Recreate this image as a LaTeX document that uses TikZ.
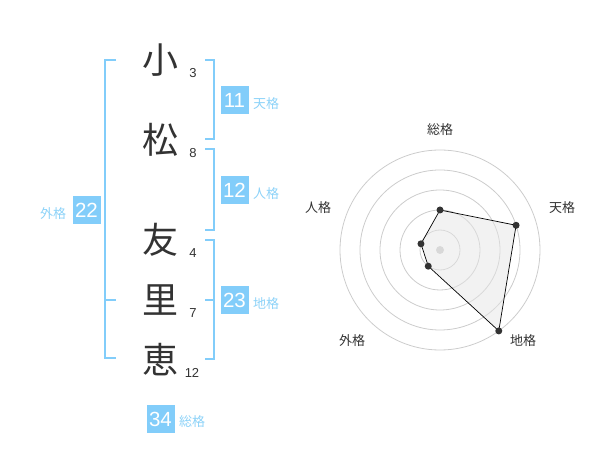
\documentclass[tikz,border=0pt]{standalone}
\usepackage{fontspec}
\setmainfont{Liberation Sans}
\newfontfamily\jp{Noto Sans CJK JP}
\usepackage{tikz}
\definecolor{kblue}{HTML}{82CDFA}
\definecolor{klabel}{HTML}{8CD2F8}
\definecolor{kdark}{HTML}{333333}

\begin{document}
\begin{tikzpicture}[x=1pt,y=-1pt]
      \tikzstyle{kanji}=[text=kdark,font=\jp\fontsize{36}{36}\selectfont,inner sep=0pt]
      \tikzstyle{stroke}=[text=kdark,font=\fontsize{13}{13}\selectfont,inner sep=0pt]
      \tikzstyle{kaku}=[rectangle,fill=kblue,text=white,minimum size=28pt,inner sep=0pt,font=\fontsize{20.5}{20.5}\selectfont]
      \tikzstyle{kakulabel}=[text=klabel,font=\jp\fontsize{13}{13}\selectfont,inner sep=0pt]
      \tikzstyle{bracket}=[draw=kblue,line width=2pt]
      \tikzstyle{radarlabel}=[text=kdark,font=\jp\fontsize{13}{13}\selectfont,inner sep=0pt]
      \tikzstyle{dot}=[circle,fill=kdark,minimum size=7pt,inner sep=0pt]

      \useasboundingbox (0,0) rectangle (600,470);

      \begin{scope}
        \node[kanji](c1) at (160,60){小};
        \node[kanji](c2) at (160,140){松};
        \node[kanji](c3) at (160,240){友};
        \node[kanji](c4) at (160,300){里};
        \node[kanji](c5) at (160,360){恵};

        \node[stroke](s1) at (193,73){3};
        \node[stroke](s2) at (193,153){8};
        \node[stroke](s3) at (193,253){4};
        \node[stroke](s4) at (193,313){7};
        \node[stroke](s5) at (192,373){12};

        \draw[bracket] (116,60) -- (105,60) -- (105,358) -- (116,358);
        \draw[bracket] (105,300) -- (116,300);
        \draw[bracket] (205,60) -- (214,60) -- (214,139) -- (205,139);
        \draw[bracket] (205,149) -- (214,149) -- (214,230) -- (205,230);
        \draw[bracket] (205,240) -- (214,240) -- (214,359) -- (205,359);
        \draw[bracket] (214,300) -- (205,300);

        \node[kaku](ten) at (234.5,100){11};
        \node[kakulabel](tenl) at (266,104){天格};
        \node[kaku](jin) at (234.5,190){12};
        \node[kakulabel](jinl) at (266,194){人格};
        \node[kaku](chi) at (234.5,300){23};
        \node[kakulabel](chil) at (266,304){地格};
        \node[kaku](gai) at (86.5,210){22};
        \node[kakulabel](gail) at (53,214){外格};
        \node[kaku](sou) at (160.5,419){34};
        \node[kakulabel](soul) at (192,422){総格};
      \end{scope}

      \begin{scope}[shift={(440,250)},yscale=-1]
        \foreach \r in {20,40,60,80,100}
          \draw[gray!40,line width=0.8pt] (0,0) circle (\r);
        \fill[gray!40] (0,0) circle (4);

        \coordinate (psou) at (90:40);
        \coordinate (pten) at (18:80);
        \coordinate (pchi) at (-54:100);
        \coordinate (pgai) at (-126:20);
        \coordinate (pjin) at (162:20);

        \filldraw[fill=gray!20,fill opacity=0.5,draw=black,line width=0.7pt]
          (psou) -- (pten) -- (pchi) -- (pgai) -- (pjin) -- cycle;
        \foreach \p in {psou,pten,pchi,pgai,pjin}
          \node[dot] at (\p){};

        \node[radarlabel](lsou) at (0,120){総格};
        \node[radarlabel](lten) at (122,42){天格};
        \node[radarlabel](lchi) at (83,-91){地格};
        \node[radarlabel](lgai) at (-88,-91){外格};
        \node[radarlabel](ljin) at (-122,42){人格};
      \end{scope}
    \end{tikzpicture}
\end{document}
